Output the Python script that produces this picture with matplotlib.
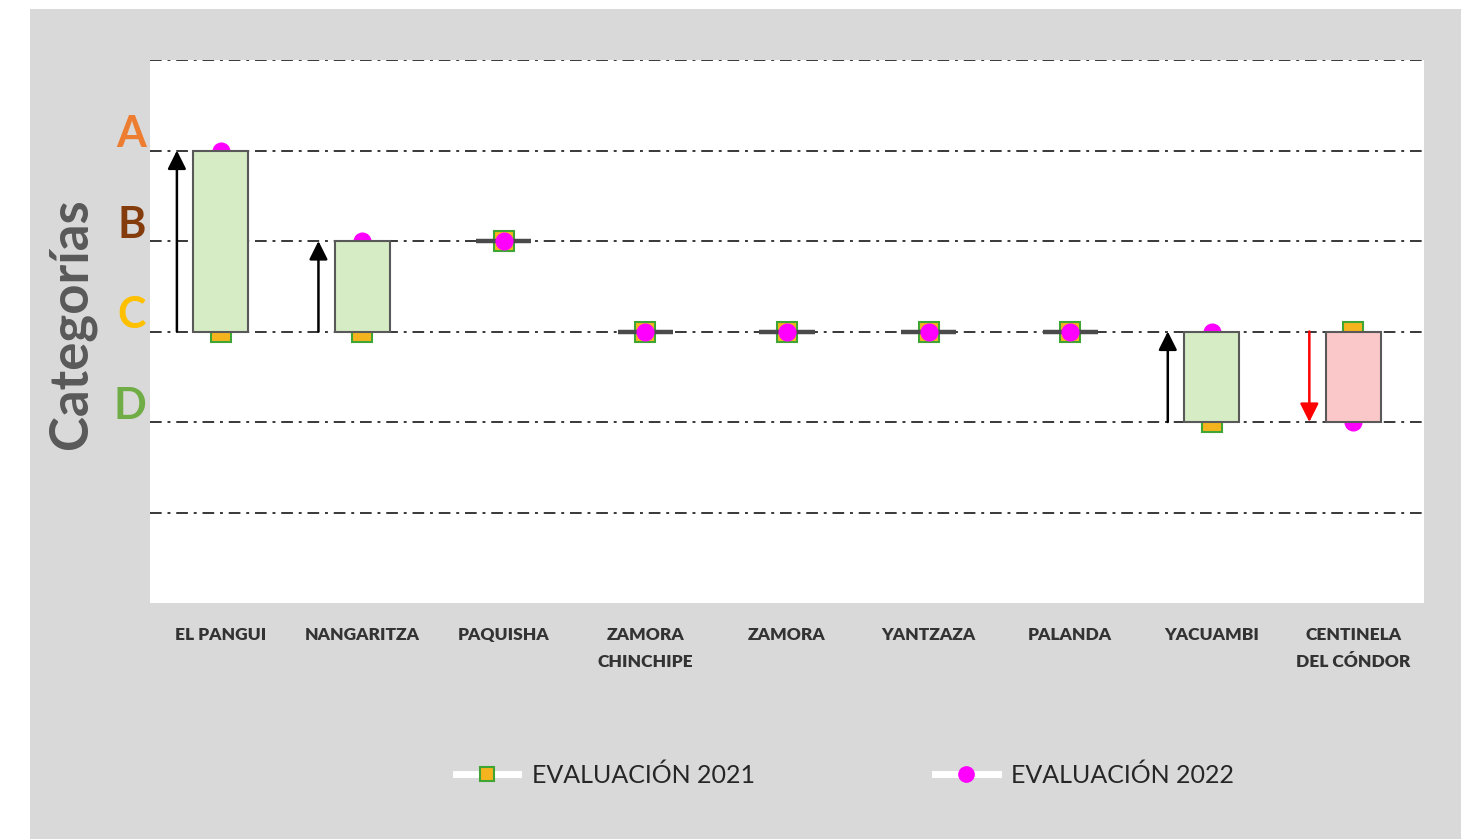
import matplotlib
matplotlib.use("Agg")
import matplotlib.pyplot as plt
from matplotlib.patches import Rectangle
from matplotlib.lines import Line2D

# Cantones evaluated and their category (D=1, C=2, B=3, A=4) in each evaluation
cantones = ['EL PANGUI', 'NANGARITZA', 'PAQUISHA', 'ZAMORA\nCHINCHIPE', 'ZAMORA',
            'YANTZAZA', 'PALANDA', 'YACUAMBI', 'CENTINELA\nDEL CÓNDOR']
eval_2021 = [2, 2, 3, 2, 2, 2, 2, 1, 2]
eval_2022 = [4, 3, 3, 2, 2, 2, 2, 2, 1]
cat_labels = ['D', 'C', 'B', 'A']
cat_values = [1, 2, 3, 4]
cat_colors = ['#70ad47', '#ffc000', '#843c0c', '#ed7d31']

plt.rcParams['font.family'] = ['Lato', 'DejaVu Sans']

W, H = 1471, 839
fig = plt.figure(figsize=(W / 100, H / 100), dpi=100, facecolor='white')
fig.patches.append(Rectangle((30 / W, 0), (1461 - 30) / W, (839 - 9) / H,
                             transform=fig.transFigure, facecolor='#d9d9d9',
                             edgecolor='none', zorder=-10))

ax = fig.add_axes([150 / W, 1 - 603 / H, (1424 - 150) / W, (603 - 60) / H])
ax.set_facecolor('white')
ax.set_xlim(-0.5, len(cantones) - 0.5)
ax.set_ylim(-1, 5)
for s in ax.spines.values():
    s.set_visible(False)

# dash-dot reference lines
for yv in range(0, 6):
    ax.axhline(yv, color='#383838', lw=1.4, ls=(0, (6, 3, 1.5, 3)), zorder=1)

box_w = 0.39
arrow_dx = -0.31
for i, (a, b) in enumerate(zip(eval_2021, eval_2022)):
    if a == b:
        ax.plot([i - box_w / 2, i + box_w / 2], [a, a], color='#4a4a4a', lw=3.2,
                solid_capstyle='butt', zorder=2.5)
        continue
    up = b > a
    face = '#d6ecc4' if up else '#fac8c8'
    ax.bar(i, b - a, bottom=a, width=box_w, color=face, edgecolor='#595959',
           linewidth=1.5, zorder=3)
    acol = 'black' if up else '#ff0000'
    ax.annotate('', xy=(i + arrow_dx, b), xytext=(i + arrow_dx, a),
                arrowprops=dict(arrowstyle='-|>', color=acol, lw=1.8,
                                mutation_scale=28, shrinkA=0, shrinkB=0),
                zorder=3)

xs = list(range(len(cantones)))
ax.plot(xs, eval_2021, ls='none', marker='s', ms=14, mfc='#f5b41e',
        mec='#3fa535', mew=1.5, zorder=2)
ax.plot(xs, eval_2022, ls='none', marker='o', ms=12, mfc='#ff00ff',
        mec='#ff00ff', zorder=2.7)

ax.set_xticks(xs)
ax.set_xticklabels(cantones, fontsize=12.5, fontweight='heavy', color='#333333',
                   linespacing=1.85, va='top')
ax.tick_params(axis='x', length=0, pad=17)
ax.set_yticks([])

# category letters on the left
for lab, v, c in zip(cat_labels, cat_values, cat_colors):
    ax.text(-0.53, v + 0.18, lab, color=c, fontsize=31, fontweight='bold',
            ha='right', va='center')

fig.text(72 / W, 1 - 324 / H, 'Categorías', rotation=90, fontsize=38,
         fontweight='bold', color='#595959', ha='center', va='center')

handles = [
    Line2D([], [], color='white', lw=5, marker='s', ms=10, mfc='#f5b41e',
           mec='#3fa535', mew=1.5),
    Line2D([], [], color='white', lw=5, marker='o', ms=11, mfc='#ff00ff',
           mec='#ff00ff'),
]
fig.legend(handles, ['EVALUACIÓN 2021', 'EVALUACIÓN 2022'], ncol=2,
           loc='center', bbox_to_anchor=(845 / W, 1 - 775 / H), frameon=False,
           fontsize=18, handlelength=2.5, handletextpad=0.55, columnspacing=7.2,
           labelcolor='#262626')

fig.savefig('out.png', dpi=100, facecolor='white')
